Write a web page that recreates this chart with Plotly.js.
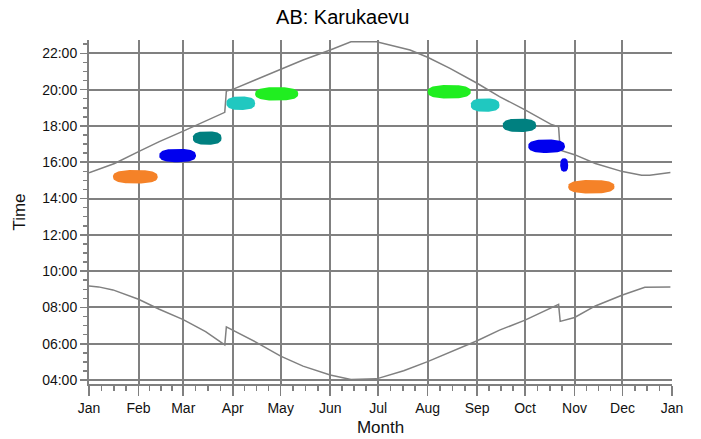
<!DOCTYPE html>
<html>
<head>
<meta charset="utf-8">
<script src="https://cdn.plot.ly/plotly-3.0.1.min.js"></script>
<style>html,body{margin:0;padding:0;background:#fff;}#chart{width:701px;height:439px;}</style>
</head>
<body>
<div id="chart"></div>
<script>
// ---- data ----
const sunsetDates = ['2010-01-01','2010-01-07','2010-01-17','2010-02-01','2010-02-14','2010-03-01','2010-03-15','2010-03-27','2010-03-28','2010-04-01','2010-04-15','2010-05-01','2010-05-15','2010-06-01','2010-06-12','2010-06-14','2010-06-30','2010-07-10','2010-07-21','2010-08-01','2010-08-15','2010-09-01','2010-09-15','2010-10-01','2010-10-17','2010-10-22','2010-10-23','2010-11-01','2010-11-14','2010-12-01','2010-12-13','2010-12-18','2010-12-31'];
const sunsetTimes = ['15:25','15:37','15:56','16:35','17:08','17:43','18:17','18:45','19:55','20:01','20:32','21:07','21:38','22:11','22:33','22:38','22:38','22:25','22:11','21:47','21:10','20:21','19:37','18:53','18:06','17:57','16:40','16:25','15:56','15:29','15:17','15:17','15:26'];

const sunriseDates = ['2010-01-01','2010-01-07','2010-01-16','2010-02-01','2010-02-14','2010-03-01','2010-03-15','2010-03-27','2010-03-28','2010-04-01','2010-04-16','2010-05-01','2010-05-15','2010-06-01','2010-06-12','2010-06-14','2010-06-30','2010-07-17','2010-08-01','2010-08-15','2010-09-01','2010-09-15','2010-10-01','2010-10-22','2010-10-23','2010-11-01','2010-11-14','2010-12-01','2010-12-15','2010-12-31'];
const sunriseTimes = ['09:11','09:08','08:58','08:27','07:54','07:20','06:40','05:56','06:56','06:45','06:04','05:19','04:46','04:17','04:06','04:02','04:04','04:31','05:01','05:32','06:10','06:45','07:18','08:10','07:14','07:27','08:05','08:41','09:07','09:08'];

const blobStart = ['2010-01-16','2010-02-14','2010-03-07','2010-03-28','2010-04-15','2010-08-01','2010-08-28','2010-09-17','2010-10-03','2010-10-23','2010-10-28'];
const blobEnd   = ['2010-02-13','2010-03-09','2010-03-25','2010-04-15','2010-05-12','2010-08-28','2010-09-15','2010-10-08','2010-10-26','2010-10-28','2010-11-26'];
const blobTime  = ['15:12','16:22','17:20','19:15','19:46','19:53','19:09','18:02','16:53','15:51','14:39'];
const blobColor = ['rgb(245,130,40)','rgb(0,0,238)','rgb(0,128,128)','rgb(32,200,192)','rgb(32,238,32)','rgb(32,238,32)','rgb(32,200,192)','rgb(0,128,128)','rgb(0,0,238)','rgb(0,0,238)','rgb(245,130,40)'];

const yTickFormat = '%H:%M';
const xTickFormat = '%b';

// ---- helpers ----
const DAY = 86400000, HOUR = 3600000;
function tms(hhmm){ const p = hhmm.split(':'); return Date.UTC(2000,0,1,+p[0],+p[1]); }
function dms(d){ const p = d.split('-'); return Date.UTC(+p[0],+p[1]-1,+p[2]); }
function iso(ms){ return new Date(ms).toISOString().slice(0,19).replace('T',' '); }

const GRAY = 'rgb(128,128,128)';
const traces = [];
traces.push({x: sunsetDates, y: sunsetTimes.map(t=>iso(tms(t))), mode:'lines', line:{color:GRAY, width:1.5}, hoverinfo:'skip', showlegend:false});
traces.push({x: sunriseDates, y: sunriseTimes.map(t=>iso(tms(t))), mode:'lines', line:{color:GRAY, width:1.5}, hoverinfo:'skip', showlegend:false});

// blobs: rounded (superellipse) filled outlines spanning start..end around the time
const halfH = 0.37*HOUR, nExp = 2.6, steps = 72;
for (let i=0;i<blobStart.length;i++){
  const s = dms(blobStart[i]), e = dms(blobEnd[i]);
  const cx = (s+e)/2, a = (e-s)/2, cy = tms(blobTime[i]);
  const xs=[], ys=[];
  for (let k=0;k<=steps;k++){
    const th = 2*Math.PI*k/steps, c=Math.cos(th), sn=Math.sin(th);
    xs.push(iso(cx + a*Math.sign(c)*Math.pow(Math.abs(c),2/nExp)));
    ys.push(iso(cy + halfH*Math.sign(sn)*Math.pow(Math.abs(sn),2/nExp)));
  }
  traces.push({x:xs, y:ys, mode:'lines', fill:'toself', fillcolor:blobColor[i], line:{width:0, color:blobColor[i]}, hoverinfo:'skip', showlegend:false});
}

// minor x ticks at quarter months
const minorX = [];
for (let m=0;m<12;m++){
  const a = Date.UTC(2010,m,1), b = Date.UTC(2010,m+1,1);
  for (let q=1;q<4;q++) minorX.push(iso(a + (b-a)*q/4));
}

const FONT = 'Liberation Sans, Arial, sans-serif';
const layout = {
  width:701, height:439,
  margin:{l:89, r:29, t:40, b:55},
  paper_bgcolor:'#fff', plot_bgcolor:'#fff',
  font:{family:FONT, color:'#111'},
  title:{text:'AB: Karukaevu', font:{family:FONT, size:20, color:'#000'}, x:0.489, xanchor:'center', y:0.962, yanchor:'middle'},
  xaxis:{type:'date', range:['2010-01-01','2011-01-01'], tick0:'2010-01-01', dtick:'M1', tickformat:xTickFormat,
    ticks:'outside', ticklen:10, tickwidth:1.5, tickcolor:GRAY,
    showline:true, linecolor:GRAY, linewidth:2,
    showgrid:true, gridcolor:GRAY, gridwidth:2, zeroline:false,
    minor:{tickmode:'array', tickvals:minorX, ticks:'outside', ticklen:5, tickwidth:1.5, tickcolor:GRAY, showgrid:false},
    tickfont:{family:FONT, size:14, color:'#111'},
    title:{text:'Month', font:{family:FONT, size:17, color:'#111'}, standoff:6}},
  yaxis:{type:'date', range:['2000-01-01 03:47','2000-01-01 22:44'], tick0:'2000-01-01 00:00', dtick:2*HOUR, tickformat:yTickFormat,
    ticks:'outside', ticklen:7, tickwidth:1.5, tickcolor:GRAY,
    showline:true, linecolor:GRAY, linewidth:2,
    showgrid:true, gridcolor:GRAY, gridwidth:2, zeroline:false,
    minor:{dtick:HOUR/2, tick0:'2000-01-01 00:00', ticks:'outside', ticklen:4, tickwidth:1.5, tickcolor:GRAY, showgrid:false},
    tickfont:{family:FONT, size:14, color:'#111'},
    title:{text:'Time', font:{family:FONT, size:17, color:'#111'}, standoff:12}},
  showlegend:false
};
Plotly.newPlot('chart', traces, layout, {staticPlot:true, displayModeBar:false});
</script>
</body>
</html>
